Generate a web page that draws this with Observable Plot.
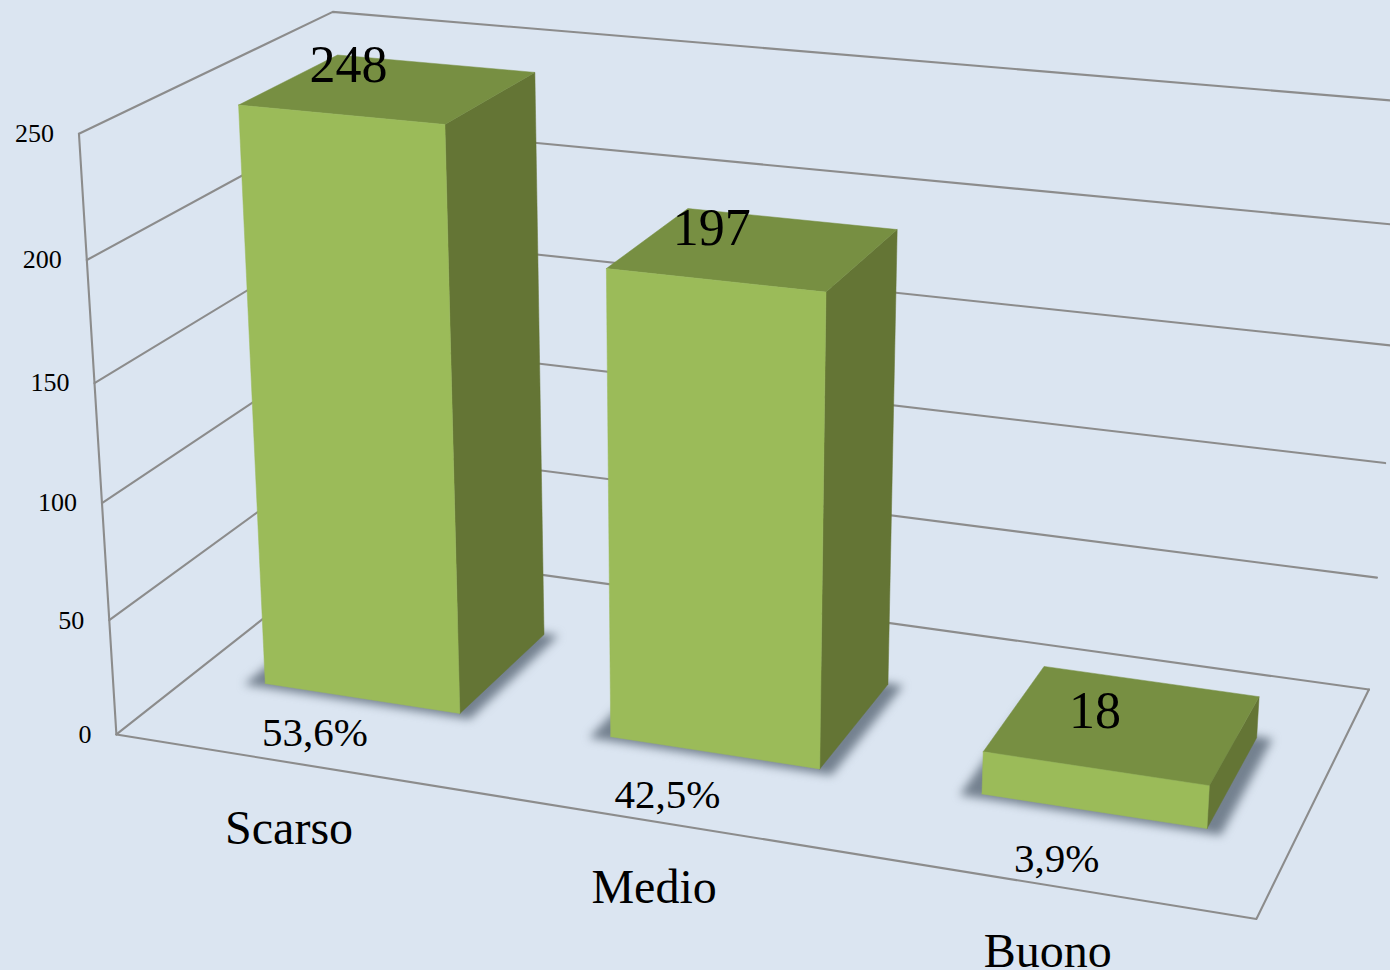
<!DOCTYPE html>
<html><head><meta charset="utf-8">
<script src="https://cdn.jsdelivr.net/npm/d3@7"></script>
<script src="https://cdn.jsdelivr.net/npm/@observablehq/plot@0.6"></script>
<style>html,body{margin:0;padding:0;background:#dbe5f1;overflow:hidden}</style>
</head><body><div id="chart"></div>
<script>
const categories = ["Scarso","Medio","Buono"];
const counts = [248,197,18];
const shares = ["53,6%","42,5%","3,9%"];
const ticks = [0,50,100,150,200,250];

// bar footprint on the floor, in category / depth units
const barStart = 0.213, barEnd = 0.785, depthFront = 0.305, depthBack = 0.71;

// camera calibration: [category position, depth, value] -> picture position, solved by least squares
const cal = [
 [0,0,0,117,736],[3,0,0,1255,918],[3,1,0,1368,686],[0,1,0,346,548],
 [0,0,50,110,620],[0,0,100,102,500],[0,0,150,94,382],[0,0,200,85,258],[0,0,250,77,131],
 [0,1,250,335,12],[0,1,250,335,12],[3,1,250,1413,102],[3,1,50,1377,576],[3,1,100,1386,461],
 [.21,.305,0,265,680],[.79,.305,0,461,714],[.79,.71,0,546,634],
 [1.21,.305,0,611,740],[1.79,.305,0,822,769],[1.79,.71,0,889,683],
 [2.21,.305,0,983,795],[2.79,.305,0,1208,828],[2.79,.71,0,1258,738],
 [.21,.305,248,238,105],[.79,.305,248,444,124],[.79,.71,248,534,73],
 [1.21,.305,197,606,269],[1.79,.305,197,825,292],[1.79,.71,197,895,231],
 [2.21,.305,18,984,752],[2.79,.305,18,1208,785],[2.79,.71,18,1258,697],[2.21,.71,18,1044,667]
];
function solve(A,b){const n=b.length;A=A.map((r,i)=>[...r,b[i]]);
 for(let i=0;i<n;i++){let p=i;for(let k=i+1;k<n;k++)if(Math.abs(A[k][i])>Math.abs(A[p][i]))p=k;[A[i],A[p]]=[A[p],A[i]];
  for(let k=0;k<n;k++)if(k!==i){const f=A[k][i]/A[i][i];for(let j=i;j<=n;j++)A[k][j]-=f*A[i][j];}}
 return A.map((r,i)=>r[n]/r[i]);}
function fit(pts){const s=0.004,rows=[],rhs=[];
 for(const [u,v,w,x,y] of pts){const W=w*s;
  rows.push([u,v,W,1,0,0,0,0,-x*u,-x*v,-x*W]);rhs.push(x);
  rows.push([0,0,0,0,u,v,W,1,-y*u,-y*v,-y*W]);rhs.push(y);}
 const N=rows[0].length,ATA=d3.range(N).map(i=>d3.range(N).map(j=>d3.sum(rows,r=>r[i]*r[j]))),ATb=d3.range(N).map(i=>d3.sum(rows,(r,k)=>r[i]*rhs[k]));
 const h=solve(ATA,ATb);
 return (u,v,w)=>{const W=w*s,d=h[8]*u+h[9]*v+h[10]*W+1;return [(h[0]*u+h[1]*v+h[2]*W+h[3])/d,(h[4]*u+h[5]*v+h[6]*W+h[7])/d];};}
const cam = fit(cal);
const P=(u,v,w)=>{const [x,y]=cam(u,v,w);return {x,y};};

const poly=(corners)=>[...corners,corners[0]].map(c=>P(...c));
const bars=categories.flatMap((c,i)=>{const a=i+barStart,z=i+barEnd,h=counts[i],f=depthFront,b=depthBack;return [
 {k:"side",pts:poly([[z,f,0],[z,b,0],[z,b,h],[z,f,h]])},
 {k:"top",pts:poly([[a,f,h],[z,f,h],[z,b,h],[a,b,h]])},
 {k:"front",pts:poly([[a,f,0],[z,f,0],[z,f,h],[a,f,h]])}];});
const shadows=categories.map((c,i)=>{const a=i+barStart,z=i+barEnd;return poly([[a-.05,depthFront-.018,0],[z+.04,depthFront-.018,0],[z+.04,depthBack+.005,0],[a-.05,depthBack+.005,0]]);});
const colors={front:"#9bbb59",side:"#647535",top:"#778f42"};
const frame=[...ticks.map(t=>[[0,0,t],[0,1,t],[3,1,t]]),[[0,0,0],[0,0,250]],[[0,0,0],[3,0,0],[3,1,0]]]
 .flatMap((l,i)=>l.map(c=>({...P(...c),l:i})));

const serif="'Liberation Serif','Times New Roman',serif";
const valueNudge=[[-41,-23],[-43,-20],[-29,-12]], shareNudge=[[-47,34],[-47,42],[-37,48]];
const nudged=(pts,n)=>pts.map((p,i)=>({...p,dx:n[i][0],dy:n[i][1]}));
const valueLabels=categories.map((c,i)=>({...P(i+.5,(depthFront+depthBack)/2,counts[i]),t:String(counts[i]),i}));
const shareLabels=categories.map((c,i)=>({...P(i+.5,depthFront,0),t:shares[i],i}));
const catLabels=categories.map((c,i)=>({...P(i+.5,0,0),t:c}));
const tickLabels=ticks.map(t=>({...P(0,0,t),t:String(t)}));

const offsetText=(rows,nudge,size)=>rows.map((r,i)=>Plot.text([r],{x:"x",y:"y",text:"t",dx:nudge[i][0],dy:nudge[i][1],lineAnchor:"middle",fontSize:size,fontFamily:serif,fill:"#000"}));

document.getElementById("chart").append(Plot.plot({width:1390,height:970,margin:0,
 x:{domain:[0,1390],range:[0,1390],axis:null},y:{domain:[0,970],range:[0,970],axis:null},
 style:{background:"#dbe5f1"},
 marks:[
  Plot.line(frame,{x:"x",y:"y",z:"l",stroke:"#8c8c8c",strokeWidth:2.1,curve:"linear"}),
  ...shadows.map(s=>Plot.line(s,{x:"x",y:"y",fill:"#687584",fillOpacity:.9,stroke:"none",curve:"linear",imageFilter:"blur(5px)"})),
  ...bars.map(f=>Plot.line(f.pts,{x:"x",y:"y",fill:colors[f.k],stroke:colors[f.k],strokeWidth:.5,curve:"linear"})),
  Plot.text(tickLabels,{x:"x",y:"y",text:"t",dx:-25,textAnchor:"end",lineAnchor:"middle",fontSize:26,fontFamily:serif,fill:"#000"}),
  ...offsetText(valueLabels,valueNudge,52),
  ...offsetText(shareLabels,shareNudge,41),
  Plot.text(catLabels,{x:"x",y:"y",text:"t",dx:0,dy:66,lineAnchor:"middle",fontSize:48,fontFamily:serif,fill:"#000"})
 ]}));
</script></body></html>
